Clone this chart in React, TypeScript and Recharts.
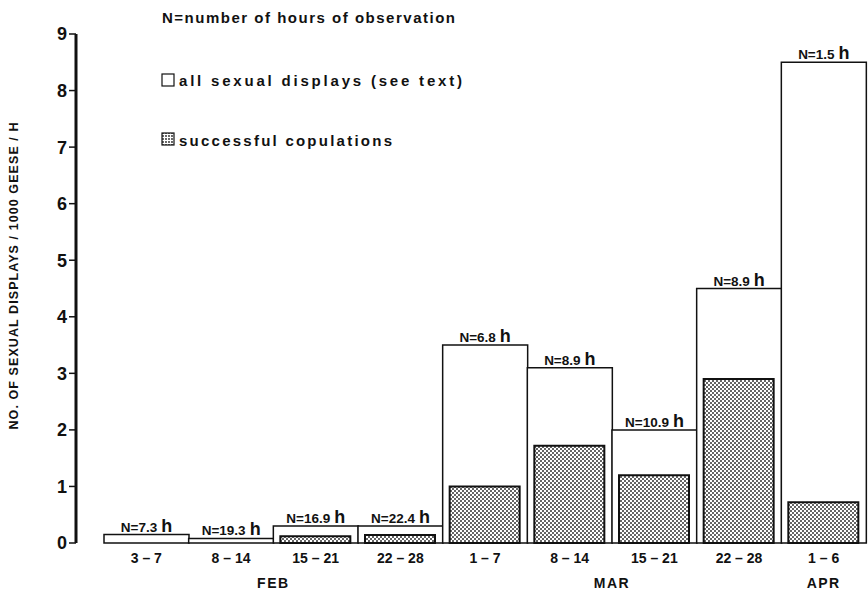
import React from 'react';
import { Bar, BarChart, LabelList, XAxis, YAxis } from 'recharts';

const categories = ['3 – 7', '8 – 14', '15 – 21', '22 – 28', '1 – 7', '8 – 14', '15 – 21', '22 – 28', '1 – 6'];
const months = ['', 'FEB', '', '', '', 'MAR', '', '', 'APR'];
const allDisplays = [0.15, 0.08, 0.3, 0.3, 3.5, 3.1, 2.0, 4.5, 8.5];
const copulations = [0, 0, 0.12, 0.14, 1.0, 1.72, 1.2, 2.9, 0.72];
const hours = ['7.3', '19.3', '16.9', '22.4', '6.8', '8.9', '10.9', '8.9', '1.5'];
const yTicks = [0, 1, 2, 3, 4, 5, 6, 7, 8, 9];

const data = categories.map((cat, i) => ({
  cat,
  month: months[i],
  all: allDisplays[i],
  cop: copulations[i],
  n: hours[i],
}));

const FONT = "'Liberation Sans', Arial, sans-serif";

function DayTick(props: any) {
  const { x, y, payload, index } = props;
  const month = months[index];
  const half = payload?.offset ?? 42.3;
  // month label sits between two weeks, except for the last one
  const mx = index < months.length - 1 ? x + half : x;
  return (
    <g fontFamily={FONT} fontWeight="bold" fill="#111">
      <text x={x} y={y + 12} textAnchor="middle" fontSize={14}>
        {payload.value}
      </text>
      {month && (
        <text x={mx} y={y + 37} textAnchor="middle" fontSize={14} letterSpacing={1.5}>
          {month}
        </text>
      )}
    </g>
  );
}

function HoursLabel(props: any) {
  const { x, y, width, value } = props;
  return (
    <text x={x + width / 2} y={y - 3} textAnchor="middle" fontFamily={FONT} fontWeight="bold" fill="#111">
      <tspan fontSize={13.5}>{`N=${value}`}</tspan>
      <tspan fontSize={18} dx={4}>h</tspan>
    </text>
  );
}

export default function App() {
  return (
    <div style={{ position: 'absolute', left: 0, top: 0, width: 868, height: 592, background: '#fff' }}>
      <BarChart
        width={868}
        height={592}
        data={data}
        margin={{ top: 34, right: 2, left: 0, bottom: 0 }}
        barCategoryGap={0}
        barGap={0}
      >
        <defs>
          <pattern id="dots" width="4" height="4" patternUnits="userSpaceOnUse">
            <rect width="4" height="4" fill="#fff" />
            <circle cx="1" cy="1" r="0.95" fill="#222" />
            <circle cx="3" cy="3" r="0.95" fill="#222" />
          </pattern>
        </defs>
        <XAxis
          xAxisId="all"
          dataKey="cat"
          padding={{ left: 28, right: 0 }}
          axisLine={false}
          tickLine={false}
          interval={0}
          height={49}
          tick={<DayTick />}
        />
        <XAxis xAxisId="cop" dataKey="cat" padding={{ left: 28, right: 0 }} hide />
        <YAxis
          domain={[0, 9]}
          ticks={yTicks}
          interval={0}
          width={76}
          axisLine={{ stroke: '#111', strokeWidth: 3 }}
          tickLine={{ stroke: '#111', strokeWidth: 1.5 }}
          tickSize={7}
          tick={{ fontFamily: FONT, fontWeight: 'bold', fontSize: 18, fill: '#111' }}
        />
        <Bar
          xAxisId="all"
          dataKey="all"
          fill="#fff"
          stroke="#111"
          strokeWidth={1.5}
          isAnimationActive={false}
        >
          <LabelList dataKey="n" content={<HoursLabel />} />
        </Bar>
        <Bar
          xAxisId="cop"
          dataKey="cop"
          barSize={70}
          fill="url(#dots)"
          stroke="#111"
          strokeWidth={2}
          isAnimationActive={false}
        />
      </BarChart>
      <svg
        width={868}
        height={592}
        style={{ position: 'absolute', left: 0, top: 0, pointerEvents: 'none' }}
      >
        <defs>
          <pattern id="dots2" width="3" height="3" patternUnits="userSpaceOnUse">
            <rect width="3" height="3" fill="#fff" />
            <circle cx="1" cy="1" r="0.9" fill="#222" />
          </pattern>
        </defs>
        <g fontFamily={FONT} fontWeight="bold" fill="#111" fontSize={15}>
          <text x={162} y={23} textLength={293} lengthAdjust="spacing">
            N=number of hours of observation
          </text>
          <rect x={162} y={74} width={12} height={12} fill="#fff" stroke="#111" strokeWidth={1.2} />
          <text x={179} y={86} textLength={283} lengthAdjust="spacing">
            all sexual displays (see text)
          </text>
          <rect x={162} y={133} width={12} height={12} fill="url(#dots2)" stroke="#111" strokeWidth={1.2} />
          <text x={179} y={146} textLength={213} lengthAdjust="spacing">
            successful copulations
          </text>
          <text
            x={0}
            y={0}
            transform="translate(18 276) rotate(-90)"
            textAnchor="middle"
            fontSize={12.5}
            textLength={307}
            lengthAdjust="spacing"
          >
            NO. OF SEXUAL DISPLAYS / 1000 GEESE / H
          </text>
        </g>
      </svg>
    </div>
  );
}
